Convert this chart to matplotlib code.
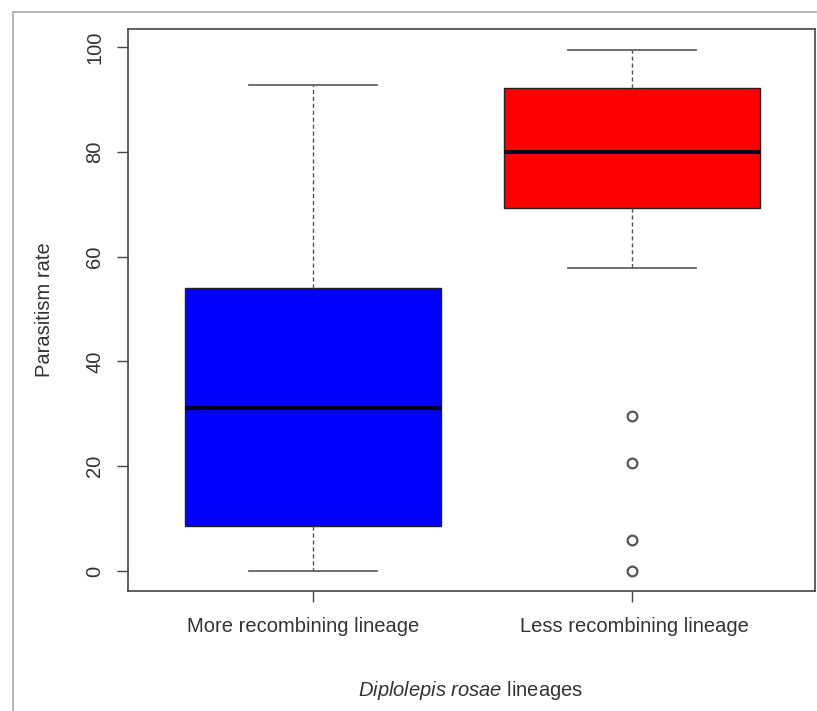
import numpy as np
import matplotlib
matplotlib.use('Agg')
import matplotlib.pyplot as plt
from matplotlib.lines import Line2D
from matplotlib.transforms import offset_copy

plt.rcParams['font.family'] = ['Liberation Sans', 'DejaVu Sans']
plt.rcParams['mathtext.fontset'] = 'custom'
plt.rcParams['mathtext.rm'] = 'Liberation Sans'
plt.rcParams['mathtext.it'] = 'Liberation Sans:italic'

# Box statistics
lineages = ['More recombining lineage', 'Less recombining lineage']
q1 = [8.6, 69.3]
median = [31.1, 80.0]
q3 = [54.0, 92.2]
whisker_low = [0.0, 57.8]
whisker_high = [92.8, 99.4]
outliers = [[], [29.6, 20.6, 5.9, 0.0]]
box_colors = ['#0000ff', '#ff0000']

stats = []
for i, name in enumerate(lineages):
    stats.append({
        'label': name,
        'q1': q1[i], 'med': median[i], 'q3': q3[i],
        'whislo': whisker_low[i], 'whishi': whisker_high[i],
        'fliers': outliers[i],
    })

fig = plt.figure(figsize=(8.17, 7.11), dpi=100)
W, H = 817, 711
ax = fig.add_axes([128 / W, 1 - 591 / H, (815 - 128) / W, (591 - 29) / H])

axis_col = '#444444'
text_col = '#333333'
fs = 14.5

bp = ax.bxp(stats, positions=[1, 2], widths=0.8, patch_artist=True,
            showfliers=True,
            boxprops=dict(edgecolor='#222222', linewidth=1.0),
            medianprops=dict(color='#000022', linewidth=3.0),
            whiskerprops=dict(color='#555555', linestyle=(0, (3, 2)), linewidth=1.0),
            capprops=dict(color='#555555', linewidth=1.2),
            flierprops=dict(marker='o', markerfacecolor='none', markeredgecolor='#555555',
                            markersize=7, markeredgewidth=1.6, linestyle='none'))
for patch, c in zip(bp['boxes'], box_colors):
    patch.set_facecolor(c)
for cap in bp['caps']:
    xd = cap.get_xdata()
    mid = (xd[0] + xd[1]) / 2
    cap.set_xdata([mid - 0.2, mid + 0.2])

ax.set_xlim(0.42, 2.574)
ax.set_ylim(-3.8, 103.4)
ax.set_yticks([0, 20, 40, 60, 80, 100])
ax.set_yticklabels(['0', '20', '40', '60', '80', '100'], rotation=90, va='center')
ax.set_xticks([1, 2])
ax.set_xticklabels([])

ax.tick_params(axis='both', direction='out', length=8, width=1.0, color=axis_col,
               labelsize=fs, labelcolor=text_col)
ax.tick_params(axis='y', pad=9)
for s in ax.spines.values():
    s.set_color(axis_col)
    s.set_linewidth(1.2)

# category labels under the ticks (slightly off-centre as in the original)
label_shift = [-10, 3]
for i, name in enumerate(lineages):
    tr = offset_copy(ax.get_xaxis_transform(), fig=fig, x=label_shift[i], y=0, units='dots')
    ax.text(i + 1, 1 - (627 - 29) / (591 - 29), name, transform=tr, ha='center', va='center',
            fontsize=fs, color=text_col)

fig.text(45 / W, 1 - 310 / H, 'Parasitism rate', rotation=90, ha='center', va='center',
         fontsize=fs, color=text_col)
fig.text(471 / W, 1 - 690 / H, r'$Diplolepis\ rosae$ lineages', ha='center', va='center',
         fontsize=fs, color=text_col)

# grey frame from the screenshot (left and top edges)
fig.add_artist(Line2D([13 / W, 13 / W], [0, 1 - 12 / H], transform=fig.transFigure,
                      color='#aaaaaa', linewidth=1.2))
fig.add_artist(Line2D([13 / W, 1], [1 - 12 / H, 1 - 12 / H], transform=fig.transFigure,
                      color='#aaaaaa', linewidth=1.2))

fig.savefig('out.png', dpi=100)
